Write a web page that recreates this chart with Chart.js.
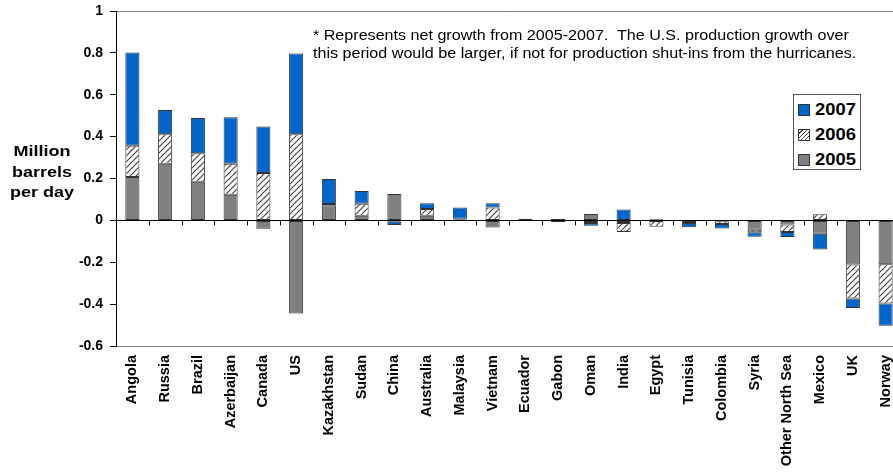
<!DOCTYPE html>
<html>
<head>
<meta charset="utf-8">
<script src="https://cdn.jsdelivr.net/npm/chart.js@4/dist/chart.umd.min.js"></script>
<style>
html,body{margin:0;padding:0;overflow:hidden;background:#fff;width:893px;height:472px;}
#wrap{position:absolute;left:0;top:0;width:902px;height:472px;}
.txt{position:absolute;font-family:Arial,"Liberation Sans",sans-serif;color:#000;white-space:nowrap;}
#note{left:313px;top:26px;font-size:14px;line-height:18px;transform-origin:0 0;transform:scaleX(1.15);}
#ytitle{left:0;width:84px;top:141px;font-size:15px;font-weight:bold;line-height:20.5px;text-align:center;transform-origin:42px 0;transform:scaleX(1.2);}
#legend{left:793px;top:94px;width:66px;height:74px;border:1px solid #555;background:#fff;}
.li{position:absolute;left:4px;height:20px;font-size:17px;font-weight:bold;line-height:20px;}
.sw{position:absolute;left:0;top:4px;width:10px;height:10px;border:1px solid #333;}
.lt{position:absolute;left:17px;top:0;transform-origin:0 0;transform:scaleX(1.08);}
</style>
</head>
<body>
<div id="wrap"><canvas id="c" width="902" height="472"></canvas></div>
<div class="txt" id="note">* Represents net growth from 2005-2007.&nbsp; The U.S. production growth over<br>this period would be larger, if not for production shut-ins from the hurricanes.</div>
<div class="txt" id="ytitle">Million<br>barrels<br>per day</div>
<div class="txt" id="legend">
  <div class="li" style="top:5px"><div class="sw" style="background:#0066CC"></div><div class="lt">2007</div></div>
  <div class="li" style="top:30px"><div class="sw" style="background:repeating-linear-gradient(135deg,#fff 0 2px,#444 2px 3px)"></div><div class="lt">2006</div></div>
  <div class="li" style="top:55px"><div class="sw" style="background:#808080"></div><div class="lt">2005</div></div>
</div>
<script>
const categories = ["Angola","Russia","Brazil","Azerbaijan","Canada","US","Kazakhstan","Sudan","China","Australia","Malaysia","Vietnam","Ecuador","Gabon","Oman","India","Egypt","Tunisia","Colombia","Syria","Other North Sea","Mexico","UK","Norway"];
const v2005 = [0.207,0.27,0.184,0.122,-0.04,-0.445,0.072,0.022,0.126,0.022,0.003,-0.034,0.008,0.006,0.03,-0.012,0.005,-0.003,-0.004,-0.045,-0.02,-0.064,-0.211,-0.21];
const v2006 = [0.149,0.141,0.137,0.148,0.226,0.411,0.006,0.058,-0.007,0.032,0.005,0.062,0,-0.009,-0.012,-0.043,-0.03,-0.01,-0.013,-0.012,-0.035,0.029,-0.162,-0.187];
const v2007 = [0.446,0.116,0.168,0.222,0.222,0.386,0.12,0.06,-0.015,0.028,0.054,0.02,0,0,-0.014,0.052,0,-0.02,-0.022,-0.021,-0.024,-0.075,-0.045,-0.106];
const yTickLabels = ["-0.6","-0.4","-0.2","0","0.2","0.4","0.6","0.8","1"];
const yMin = -0.6, yMax = 1, yStep = 0.2;

function hatch(){
  const p = document.createElement('canvas'); p.width = 6; p.height = 6;
  const g = p.getContext('2d');
  g.fillStyle = '#fff'; g.fillRect(0,0,6,6);
  g.strokeStyle = '#444'; g.lineWidth = 1.2;
  g.beginPath();
  g.moveTo(0,6); g.lineTo(6,0);
  g.moveTo(-1,1); g.lineTo(1,-1);
  g.moveTo(5,7); g.lineTo(7,5);
  g.stroke();
  return g.createPattern(p,'repeat');
}
const ctx = document.getElementById('c').getContext('2d');
const F = 'Arial, "Liberation Sans", sans-serif';

const axisPlugin = {
  id:'axisPlugin',
  afterDatasetsDraw(chart){
    const c = chart.ctx, xs = chart.scales.x, ys = chart.scales.y, a = chart.chartArea;
    const y0 = Math.round(ys.getPixelForValue(0)) + 0.5;
    const half = (xs.getPixelForValue(1) - xs.getPixelForValue(0)) / 2;
    c.save();
    c.strokeStyle = '#000'; c.lineWidth = 1;
    c.beginPath(); c.moveTo(a.left, y0); c.lineTo(a.right, y0); c.stroke();
    for (let i = 1; i < categories.length; i++){
      const x = Math.round(xs.getPixelForValue(i) - half) + 0.5;
      c.beginPath(); c.moveTo(x, y0); c.lineTo(x, y0 + 5); c.stroke();
    }
    c.restore();
  }
};

new Chart(ctx, {
  type:'bar',
  data:{
    labels: categories,
    datasets:[
      {label:'2005', data:v2005, backgroundColor:'#808080', borderColor:'#333', borderWidth:1, borderSkipped:false},
      {label:'2006', data:v2006, backgroundColor:hatch(), borderColor:'#333', borderWidth:1, borderSkipped:false},
      {label:'2007', data:v2007, backgroundColor:'#0066CC', borderColor:'#333', borderWidth:1, borderSkipped:false}
    ]
  },
  options:{
    responsive:false, animation:false, devicePixelRatio:1,
    layout:{padding:{top:11,right:0,left:0,bottom:0}},
    categoryPercentage:1, barPercentage:0.43,
    plugins:{legend:{display:false}, tooltip:{enabled:false}},
    scales:{
      x:{
        stacked:true,
        grid:{display:false, drawTicks:false},
        border:{display:true, color:'#808080', width:1},
        ticks:{minRotation:90, maxRotation:90, padding:9, color:'#000', font:{family:F, size:14.5, weight:'bold'}, autoSkip:false},
        afterFit(s){ s.height = 126; s.paddingLeft = 0; s.paddingRight = 0; }
      },
      y:{
        stacked:true, min:yMin, max:yMax,
        afterBuildTicks(s){ s.ticks = yTickLabels.map(t => ({value: parseFloat(t)})); },
        ticks:{stepSize:yStep, padding:7, color:'#000', font:{family:F, size:14, weight:'bold'},
          callback:(v,i)=>yTickLabels[i]},
        grid:{drawTicks:true, tickLength:6, tickColor:'#000',
          color:(c)=> (c.tick && Math.abs(c.tick.value - yMax) < 1e-9) ? '#808080' : 'rgba(0,0,0,0)'},
        border:{display:true, color:'#000', width:1},
        afterFit(s){ s.width = 116; s.paddingTop = 0; s.paddingBottom = 0; }
      }
    }
  },
  plugins:[axisPlugin]
});
</script>
</body>
</html>
